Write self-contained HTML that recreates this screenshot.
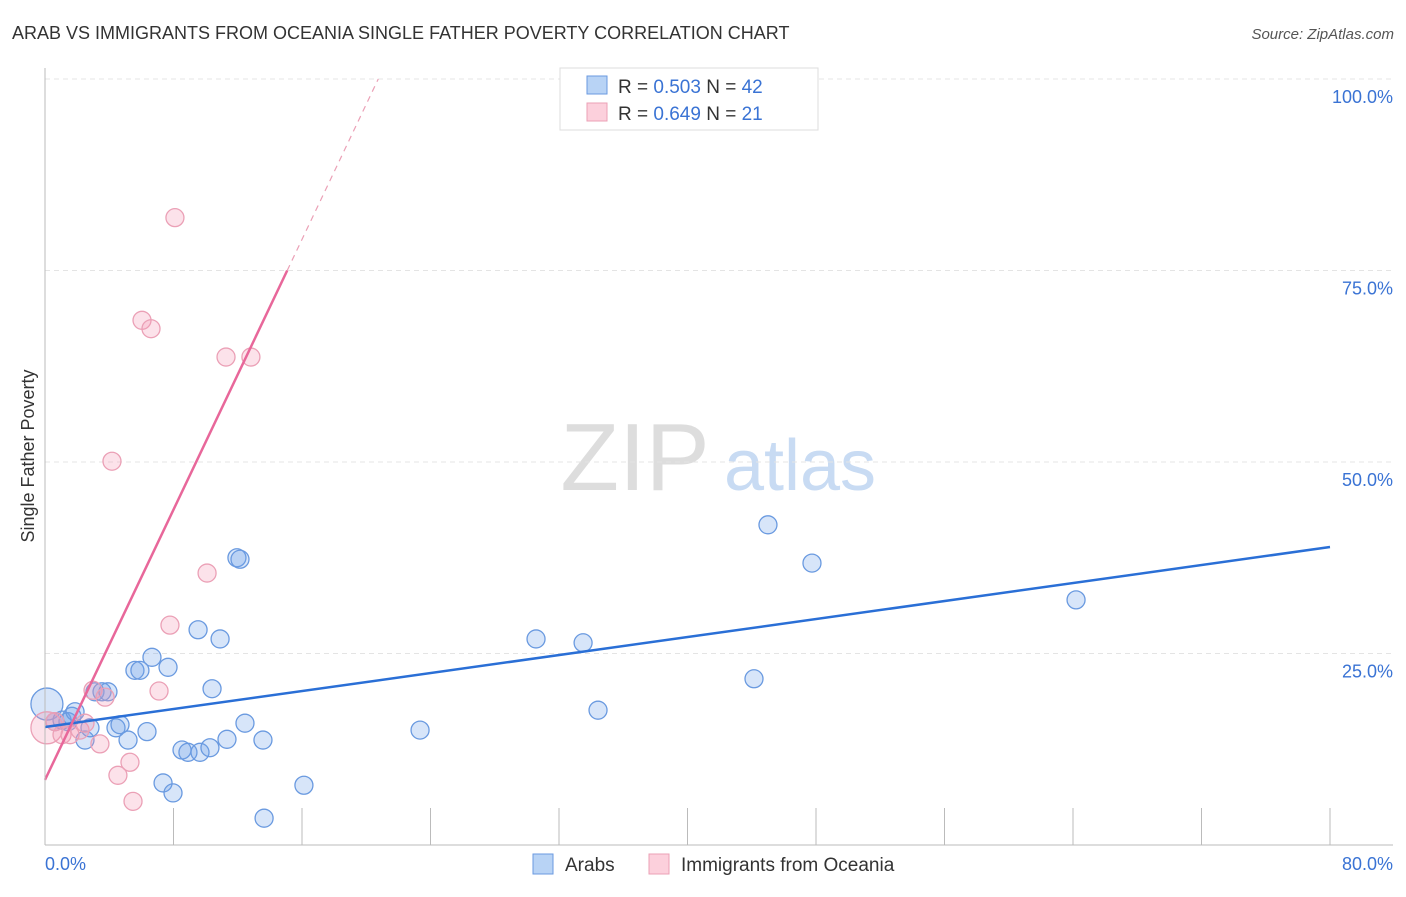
<!DOCTYPE html>
<html><head><meta charset="utf-8"><style>
body{margin:0;background:#fff;font-family:"Liberation Sans",sans-serif}
svg text{font-family:"Liberation Sans",sans-serif}
</style></head><body>
<svg width="1406" height="892" id="c">
<text x="12" y="39" font-size="18" fill="#333">ARAB VS IMMIGRANTS FROM OCEANIA SINGLE FATHER POVERTY CORRELATION CHART</text>
<text x="1394" y="39" font-size="15" fill="#555" font-style="italic" text-anchor="end">Source: ZipAtlas.com</text>
<text x="34" y="456" font-size="18" fill="#333" text-anchor="middle" transform="rotate(-90 34 456)">Single Father Poverty</text>
<g><text x="635" y="490" font-size="96" fill="#ddd" font-family="Liberation Serif" text-anchor="middle">ZIP</text><text x="800" y="490" font-size="72" fill="#c8dbf3" text-anchor="middle">atlas</text></g>
<g id="grid"></g><g id="pts"></g><g id="lines"></g>
<line x1="45" y1="68" x2="45" y2="845" stroke="#bbb"/>
<line x1="45" y1="845" x2="1393" y2="845" stroke="#bbb"/>
<text x="45" y="870" font-size="18" fill="#3a73d4">0.0%</text>
<text x="1393" y="870" font-size="18" fill="#3a73d4" text-anchor="end">80.0%</text>
<g>
<rect x="560" y="68" width="258" height="62" fill="#fff" stroke="#ddd"/>
<rect x="587" y="76" width="20" height="18" fill="#b8d3f5" stroke="#6a9ae0"/>
<rect x="587" y="103" width="20" height="18" fill="#fcd0dc" stroke="#eba0b6"/>
<text x="618" y="93" font-size="19" fill="#333">R = <tspan fill="#3a73d4">0.503</tspan>   N = <tspan fill="#3a73d4">42</tspan></text>
<text x="618" y="120" font-size="19" fill="#333">R = <tspan fill="#3a73d4">0.649</tspan>   N =  <tspan fill="#3a73d4">21</tspan></text>
</g>
<g>
<rect x="533" y="854" width="20" height="20" fill="#b8d3f5" stroke="#6a9ae0"/>
<text x="565" y="871" font-size="19" fill="#333">Arabs</text>
<rect x="649" y="854" width="20" height="20" fill="#fcd0dc" stroke="#eba0b6"/>
<text x="681" y="871" font-size="19" fill="#333">Immigrants from Oceania</text>
</g>
</svg>
<script>
const yTicks=[25,50,75,100];
const yTickLabels=["25.0%","50.0%","75.0%","100.0%"];
const xTicks=[0,10,20,30,40,50,60,70,80,90,100].map(i=>i*0.8);
const arabX=[0.12,0.62,1.06,1.43,1.68,1.87,2.49,2.8,3.11,3.55,3.92,4.42,4.67,5.17,5.6,5.91,6.35,6.66,7.66,7.35,7.97,8.53,8.9,9.53,9.65,10.27,10.4,10.9,11.33,11.95,12.14,12.45,13.57,13.64,16.12,23.35,30.57,33.5,34.43,44.14,45.01,47.75,64.19];
const arabY=[18.4,16.1,16.3,16.1,16.8,17.4,13.7,15.3,20.0,20.0,20.0,15.3,15.7,13.7,22.8,22.8,14.8,24.5,23.2,8.1,6.8,12.4,12.1,28.1,12.1,12.7,20.4,26.9,13.8,37.5,37.3,15.9,13.7,3.5,7.8,15.0,26.9,26.4,17.6,21.7,41.8,36.8,32.0];
const oceX=[0.12,0.62,1.06,1.56,2.18,2.49,2.99,3.42,3.74,4.17,4.54,5.29,5.48,6.04,6.6,7.1,7.78,8.09,10.09,11.27,12.82];
const oceY=[15.3,16.1,14.4,14.4,15.0,15.9,20.2,13.2,19.3,50.1,9.1,10.8,5.7,68.5,67.4,20.1,28.7,81.9,35.5,63.7,63.7];
const arabTrend=[15.4,38.9];
const oceTrend=[8.5,4.41];
const X=v=>45+v*16.0625, Y=v=>845-v*7.66;
const NS="http://www.w3.org/2000/svg";
function mk(t,a,p){const e=document.createElementNS(NS,t);for(const k in a)e.setAttribute(k,a[k]);p.appendChild(e);return e;}
const grid=document.getElementById('grid');
yTicks.forEach((t,i)=>{
const l=mk('line',{x1:45,x2:1393,y1:Y(t),y2:Y(t),stroke:'#e4e4e4','stroke-dasharray':'5,4'},grid);


const tx=mk('text',{x:1393,y:Y(t)+24,'font-size':18,fill:'#3a73d4','text-anchor':'end'},grid);
tx.textContent=yTickLabels[i];


});
xTicks.forEach(t=>{
const l=mk('line',{x1:X(t),x2:X(t),y1:808,y2:845,stroke:'#bbb'},grid);


});
const pts=document.getElementById('pts');
arabX.forEach((x,i)=>{
const c=mk('circle',{cx:X(x),cy:Y(arabY[i]),r:i==0?16:9,fill:'rgba(110,160,235,0.28)',stroke:'#6a9ae0','stroke-width':1.3},pts);


});
oceX.forEach((x,i)=>{
const c=mk('circle',{cx:X(x),cy:Y(oceY[i]),r:i==0?16:9,fill:'rgba(245,150,180,0.28)',stroke:'#eba0b6','stroke-width':1.3},pts);


});
const lines=document.getElementById('lines');
const bl=mk('line',{x1:X(0),y1:Y(arabTrend[0]),x2:X(80),y2:Y(arabTrend[1]),stroke:'#2a6fd6','stroke-width':2.5},lines);


const xe=(75-oceTrend[0])/oceTrend[1], xd=(100-oceTrend[0])/oceTrend[1];
const pl=mk('line',{x1:X(0),y1:Y(oceTrend[0]),x2:X(xe),y2:Y(75),stroke:'#e8679a','stroke-width':2.5},lines);


const pd=mk('line',{x1:X(xe),y1:Y(75),x2:X(xd),y2:Y(100),stroke:'#eba0b6','stroke-width':1.2,'stroke-dasharray':'6,5'},lines);


</script>
</body></html>
